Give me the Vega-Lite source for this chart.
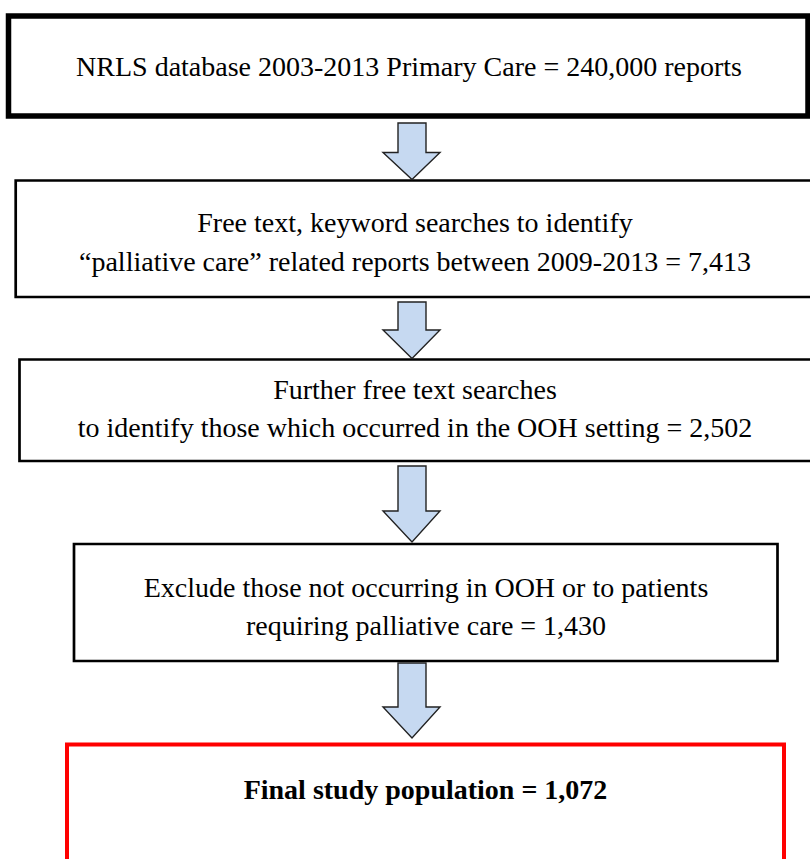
{
  "$schema": "https://vega.github.io/schema/vega-lite/v6.json",
  "width": 810,
  "height": 859,
  "autosize": {"type": "none"},
  "padding": 0,
  "background": "white",
  "config": {"view": {"stroke": null}},
  "datasets": {
    "boxes": [
      {"step": 1, "kind": "start", "left": 8.5, "right": 808, "top": 16, "bottom": 116},
      {"step": 2, "kind": "step", "left": 15.7, "right": 816, "top": 180.5, "bottom": 297},
      {"step": 3, "kind": "step", "left": 19.5, "right": 816, "top": 359.5, "bottom": 461},
      {"step": 4, "kind": "step", "left": 74, "right": 777.5, "top": 544, "bottom": 661},
      {"step": 5, "kind": "final", "left": 67, "right": 784, "top": 744.5, "bottom": 880}
    ],
    "arrows": [
      {"arrow": 1, "y": 123, "xl": 398, "xr": 426},
      {"arrow": 1, "y": 152.5, "xl": 398, "xr": 426},
      {"arrow": 1, "y": 152.5, "xl": 383, "xr": 440},
      {"arrow": 1, "y": 179.5, "xl": 412, "xr": 412},
      {"arrow": 2, "y": 302, "xl": 398, "xr": 426},
      {"arrow": 2, "y": 330, "xl": 398, "xr": 426},
      {"arrow": 2, "y": 330, "xl": 383, "xr": 440},
      {"arrow": 2, "y": 358.5, "xl": 412, "xr": 412},
      {"arrow": 3, "y": 466, "xl": 398, "xr": 426},
      {"arrow": 3, "y": 511, "xl": 398, "xr": 426},
      {"arrow": 3, "y": 511, "xl": 383, "xr": 440},
      {"arrow": 3, "y": 542, "xl": 412, "xr": 412},
      {"arrow": 4, "y": 663, "xl": 398, "xr": 426},
      {"arrow": 4, "y": 707, "xl": 398, "xr": 426},
      {"arrow": 4, "y": 707, "xl": 383, "xr": 440},
      {"arrow": 4, "y": 738, "xl": 412, "xr": 412}
    ],
    "labels": [
      {"step": 1, "text": "NRLS database 2003-2013 Primary Care = 240,000 reports", "x": 409, "y": 76},
      {"step": 2, "text": "Free text, keyword searches to identify", "x": 415, "y": 232},
      {"step": 2, "text": "“palliative care” related reports between 2009-2013 = 7,413", "x": 415, "y": 271},
      {"step": 3, "text": "Further free text searches", "x": 415, "y": 399},
      {"step": 3, "text": "to identify those which occurred in the OOH setting = 2,502", "x": 415, "y": 437},
      {"step": 4, "text": "Exclude those not occurring in OOH or to patients", "x": 426, "y": 597},
      {"step": 4, "text": "requiring palliative care = 1,430", "x": 426, "y": 635},
      {"step": 5, "text": "Final study population = 1,072", "x": 425.5, "y": 799}
    ]
  },
  "layer": [
    {
      "data": {"name": "boxes"},
      "transform": [{"filter": "datum.kind === 'start'"}],
      "mark": {"type": "rect", "fill": "white", "stroke": "black", "strokeWidth": 5.5},
      "encoding": {
        "x": {"field": "left", "type": "quantitative", "scale": {"domain": [0, 810], "nice": false, "zero": false}, "axis": null},
        "x2": {"field": "right"},
        "y": {"field": "top", "type": "quantitative", "scale": {"domain": [0, 859], "nice": false, "zero": false, "reverse": true}, "axis": null},
        "y2": {"field": "bottom"}
      }
    },
    {
      "data": {"name": "boxes"},
      "transform": [{"filter": "datum.kind === 'step'"}],
      "mark": {"type": "rect", "fill": "white", "stroke": "black", "strokeWidth": 2.7},
      "encoding": {
        "x": {"field": "left", "type": "quantitative", "scale": {"domain": [0, 810], "nice": false, "zero": false}, "axis": null},
        "x2": {"field": "right"},
        "y": {"field": "top", "type": "quantitative", "scale": {"domain": [0, 859], "nice": false, "zero": false, "reverse": true}, "axis": null},
        "y2": {"field": "bottom"}
      }
    },
    {
      "data": {"name": "boxes"},
      "transform": [{"filter": "datum.kind === 'final'"}],
      "mark": {"type": "rect", "fill": "white", "stroke": "#ff0000", "strokeWidth": 4},
      "encoding": {
        "x": {"field": "left", "type": "quantitative", "scale": {"domain": [0, 810], "nice": false, "zero": false}, "axis": null},
        "x2": {"field": "right"},
        "y": {"field": "top", "type": "quantitative", "scale": {"domain": [0, 859], "nice": false, "zero": false, "reverse": true}, "axis": null},
        "y2": {"field": "bottom"}
      }
    },
    {
      "data": {"name": "arrows"},
      "mark": {"type": "area", "orient": "horizontal", "fill": "#c6d9f1", "fillOpacity": 1, "stroke": "#222222", "strokeWidth": 1.4, "interpolate": "linear"},
      "encoding": {
        "detail": {"field": "arrow", "type": "nominal"},
        "y": {"field": "y", "type": "quantitative", "scale": {"domain": [0, 859], "nice": false, "zero": false, "reverse": true}, "axis": null},
        "x": {"field": "xl", "type": "quantitative", "scale": {"domain": [0, 810], "nice": false, "zero": false}, "axis": null},
        "x2": {"field": "xr"}
      }
    },
    {
      "data": {"name": "labels"},
      "transform": [{"filter": "datum.step < 5"}],
      "mark": {"type": "text", "font": "Liberation Serif", "fontSize": 28, "color": "black", "align": "center", "baseline": "alphabetic"},
      "encoding": {
        "x": {"field": "x", "type": "quantitative", "scale": {"domain": [0, 810], "nice": false, "zero": false}, "axis": null},
        "y": {"field": "y", "type": "quantitative", "scale": {"domain": [0, 859], "nice": false, "zero": false, "reverse": true}, "axis": null},
        "text": {"field": "text"}
      }
    },
    {
      "data": {"name": "labels"},
      "transform": [{"filter": "datum.step === 5"}],
      "mark": {"type": "text", "font": "Liberation Serif", "fontSize": 28, "fontWeight": "bold", "color": "black", "align": "center", "baseline": "alphabetic"},
      "encoding": {
        "x": {"field": "x", "type": "quantitative", "scale": {"domain": [0, 810], "nice": false, "zero": false}, "axis": null},
        "y": {"field": "y", "type": "quantitative", "scale": {"domain": [0, 859], "nice": false, "zero": false, "reverse": true}, "axis": null},
        "text": {"field": "text"}
      }
    }
  ]
}
